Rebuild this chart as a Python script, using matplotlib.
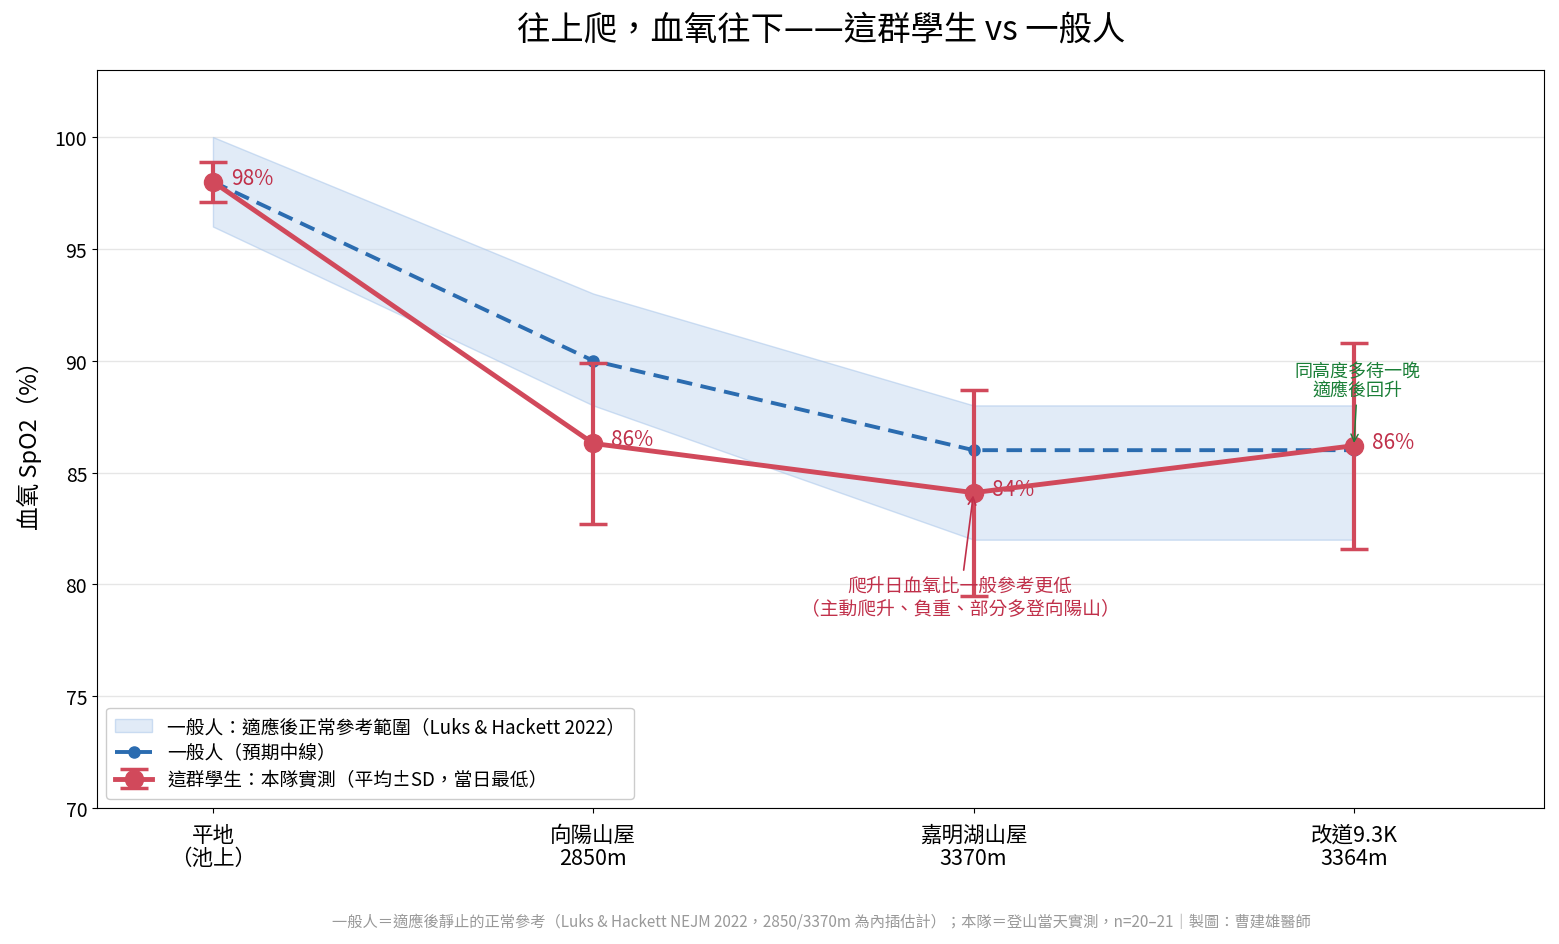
import numpy
import matplotlib
matplotlib.use('Agg')
import matplotlib.pyplot as plt

plt.rcParams['font.family'] = ['Noto Sans CJK TC', 'DejaVu Sans']

site_labels = ['平地\n（池上）', '向陽山屋\n2850m', '嘉明湖山屋\n3370m', '改道9.3K\n3364m']
ref_low = [96, 88, 82, 82]
ref_high = [100, 93, 88, 88]
ref_mid = [98, 90, 86, 86]
team_mean = [98.0, 86.3, 84.1, 86.2]
team_sd = [0.9, 3.6, 4.6, 4.6]
team_text = ['98%', '86%', '84%', '86%']

RED = '#d1495b'
RED_TXT = '#c0304a'
BLUE = '#2b6cb0'
GREEN = '#1a7f37'

x_pos = numpy.arange(len(site_labels))

fig = plt.figure(figsize=(15.59, 9.45), dpi=100)
axs = fig.add_axes([0.0622, 0.1439, 0.9282, 0.7810])

axs.grid(axis='y', color='#e6e6e6', linewidth=1)
axs.set_axisbelow(True)

axs.fill_between(x_pos, ref_low, ref_high, facecolor='#c9dcf2', edgecolor='#a9c6ea',
                 alpha=0.55, linewidth=1, label='一般人：適應後正常參考範圍（Luks & Hackett 2022）', zorder=1)
axs.plot(x_pos, ref_mid, '--', color=BLUE, linewidth=2.8, marker='o', markersize=8,
         dashes=(4, 2.2), label='一般人（預期中線）', zorder=3)
axs.errorbar(x_pos, team_mean, yerr=team_sd, color=RED, linewidth=3.5, marker='o',
             markersize=13, elinewidth=3, capsize=10, capthick=2.5,
             label='這群學生：本隊實測（平均±SD，當日最低）', zorder=4)

for i in range(len(x_pos)):
    axs.annotate(team_text[i], (x_pos[i], team_mean[i]), xytext=(13, 3),
                 textcoords='offset points', color=RED_TXT, fontsize=15,
                 va='center', ha='left', zorder=2)

axs.annotate('爬升日血氧比一般參考更低\n（主動爬升、負重、部分多登向陽山）',
             xy=(x_pos[2], team_mean[2]), xytext=(1.965, 79.45),
             ha='center', va='center', color=RED_TXT, fontsize=13.5,
             linespacing=1.0,
             arrowprops=dict(arrowstyle='->', color=RED_TXT, lw=1.2), zorder=5)

axs.annotate('同高度多待一晚\n適應後回升',
             xy=(x_pos[3], team_mean[3]), xytext=(3.01, 89.1),
             ha='center', va='center', color=GREEN, fontsize=13,
             linespacing=1.1,
             arrowprops=dict(arrowstyle='->', color=GREEN, lw=1.0), zorder=5)

axs.set_xlim(-0.305, 3.5)
axs.set_ylim(70, 103)
axs.set_yticks([70, 75, 80, 85, 90, 95, 100])
axs.set_xticks(x_pos)
axs.set_xticklabels(site_labels, fontsize=15.5, linespacing=1.05)
axs.tick_params(axis='x', pad=8)
axs.tick_params(axis='y', labelsize=14)
axs.set_ylabel('血氧 SpO2（%）', fontsize=17, labelpad=9)

axs.legend(loc='lower left', fontsize=13.5, frameon=True, framealpha=1,
           edgecolor='#cccccc', borderpad=0.45, labelspacing=0.3)

fig.text(0.527, 0.968, '往上爬，血氧往下——這群學生 vs 一般人', fontsize=24, fontweight='medium',
         ha='center', va='center')
fig.text(0.527, 0.024, '一般人＝適應後靜止的正常參考（Luks & Hackett NEJM 2022，2850/3370m 為內插估計）；本隊＝登山當天實測，n=20–21｜製圖：曹建雄醫師',
         ha='center', va='center', fontsize=11, color='#999999')

plt.savefig('out.png', dpi=100)
